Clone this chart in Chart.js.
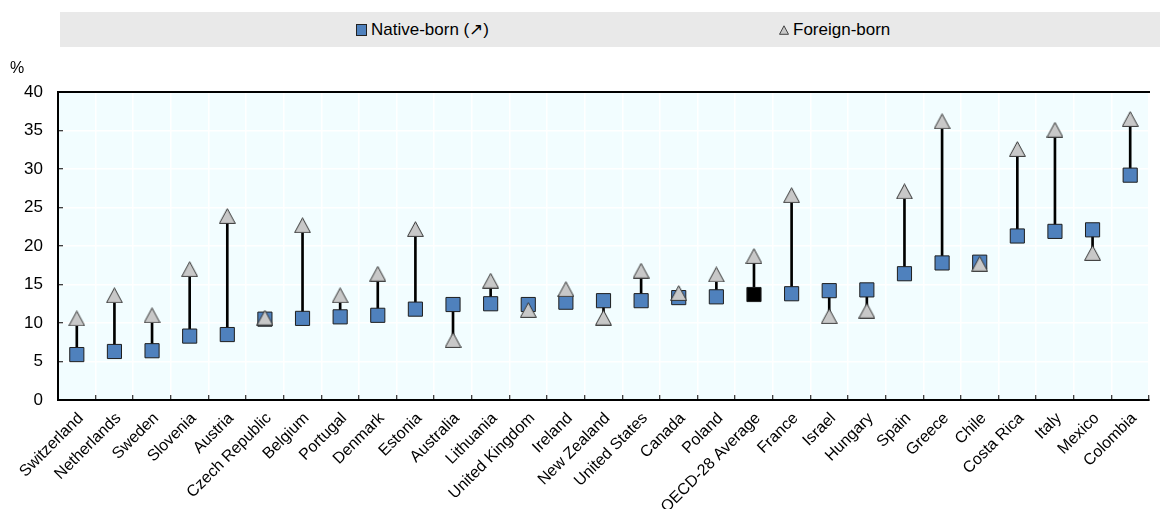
<!DOCTYPE html>
<html>
<head>
<meta charset="utf-8">
<script src="https://cdn.jsdelivr.net/npm/chart.js@4.4.1/dist/chart.umd.min.js"></script>
<style>
  html, body { margin: 0; padding: 0; background: #ffffff; }
  #wrap { position: relative; width: 1160px; height: 509px; overflow: hidden; font-family: "Liberation Sans", Arial, sans-serif; }
  #c { position: absolute; left: 0; top: 0; }
  #legend { position: absolute; left: 60px; top: 12px; width: 1100px; height: 35px; background: #e9e9e9; }
  .item { position: absolute; top: 0; height: 35px; display: flex; align-items: center; font-size: 17px; color: #000; white-space: nowrap; }
  .sq { width: 11px; height: 12px; background: #4f81bd; border: 1px solid #222; box-sizing: border-box; margin-right: 4px; }
  .tri { width: 10px; height: 10px; margin-right: 4px; }
  #pct { position: absolute; left: 10px; top: 59px; font-size: 16px; color: #000; }
</style>
</head>
<body>
<div id="wrap">
  <canvas id="c" width="1160" height="509"></canvas>
  <div id="legend">
    <div class="item" id="lg1" style="left:296px"><div class="sq"></div><span>Native-born (↗)</span></div>
    <div class="item" id="lg2" style="left:719px"><svg class="tri" viewBox="0 0 10 10"><polygon points="5,0.8 9.5,9.3 0.5,9.3" fill="#c8c8c8" stroke="#333" stroke-width="0.9"/></svg><span>Foreign-born</span></div>
  </div>
  <div id="pct">%</div>
</div>
<script>
const categories = ["Switzerland","Netherlands","Sweden","Slovenia","Austria","Czech Republic","Belgium","Portugal","Denmark","Estonia","Australia","Lithuania","United Kingdom","Ireland","New Zealand","United States","Canada","Poland","OECD-28 Average","France","Israel","Hungary","Spain","Greece","Chile","Costa Rica","Italy","Mexico","Colombia"];
const nativeBorn = [5.9, 6.3, 6.4, 8.3, 8.5, 10.5, 10.6, 10.8, 11.0, 11.8, 12.4, 12.5, 12.4, 12.7, 12.9, 12.9, 13.3, 13.4, 13.7, 13.8, 14.2, 14.3, 16.4, 17.8, 17.9, 21.3, 21.9, 22.1, 29.2];
const foreignBorn = [10.6, 13.6, 11.0, 17.0, 23.9, 10.7, 22.7, 13.6, 16.4, 22.2, 7.8, 15.5, 11.7, 14.4, 10.7, 16.8, 13.9, 16.3, 18.7, 26.6, 10.9, 11.6, 27.1, 36.2, 17.7, 32.6, 35.1, 19.1, 36.5];
const highlightCategory = "OECD-28 Average";
const yMin = 0, yMax = 40, yStep = 5;

const FONT = '"Liberation Sans", Arial, sans-serif';
Chart.defaults.font.family = FONT;
Chart.defaults.color = '#000';

function triangleImage(w, h, fill, stroke) {
  const c = document.createElement('canvas');
  c.width = w; c.height = h;
  const g = c.getContext('2d');
  g.beginPath();
  g.moveTo(w / 2, 0.7);
  g.lineTo(w - 0.6, h - 0.6);
  g.lineTo(0.6, h - 0.6);
  g.closePath();
  g.fillStyle = fill; g.fill();
  g.strokeStyle = stroke; g.lineWidth = 1; g.stroke();
  return c;
}
const triImg = triangleImage(17, 16, '#c8c8c8', '#333333');

const plotBg = {
  id: 'plotBg',
  beforeDraw(chart) {
    const { ctx, chartArea: a } = chart;
    ctx.save();
    ctx.fillStyle = '#f2fdff';
    ctx.fillRect(a.left, a.top, a.right - a.left, a.bottom - a.top);
    ctx.restore();
  }
};

new Chart(document.getElementById('c'), {
  type: 'bar',
  data: {
    labels: categories,
    datasets: [
      {
        type: 'line', label: 'Foreign-born', data: foreignBorn, showLine: false,
        pointStyle: triImg, pointRadius: 9, pointHoverRadius: 9, order: 0
      },
      {
        type: 'line', label: 'Native-born (↗)', data: nativeBorn, showLine: false,
        pointStyle: 'rect', pointRadius: 10, pointHoverRadius: 10,
        pointBackgroundColor: categories.map(c => c === highlightCategory ? '#000000' : '#4f81bd'),
        pointBorderColor: '#1e1e1e', pointBorderWidth: 1, order: 1
      },
      {
        type: 'bar', label: 'gap', data: categories.map((c, i) => [nativeBorn[i], foreignBorn[i]]),
        backgroundColor: '#000000', barThickness: 2, order: 2
      }
    ]
  },
  options: {
    responsive: false,
    animation: false,
    events: [],
    layout: { padding: { top: 92, left: 0, right: 0, bottom: 0 } },
    plugins: { legend: { display: false }, tooltip: { enabled: false }, title: { display: false } },
    scales: {
      x: {
        type: 'category', offset: true,
        grid: { offset: true, color: '#ffffff', lineWidth: 1.5, tickColor: '#000', tickLength: -5, tickWidth: 1 },
        border: { color: '#000', width: 2, z: 1 },
        ticks: { color: '#000', font: { size: 16 }, minRotation: 45, maxRotation: 45, autoSkip: false, padding: 14, labelOffset: 4 },
        afterFit(s) { s.height = 109; }
      },
      x2: {
        type: 'category', position: 'top', labels: categories, offset: true,
        grid: { display: false, drawTicks: false },
        ticks: { display: false },
        border: { color: '#000', width: 2, z: 1 },
        afterFit(s) { s.height = 0; }
      },
      y: {
        min: yMin, max: yMax,
        ticks: { stepSize: yStep, color: '#000', font: { size: 17 }, padding: 20 },
        grid: { color: '#ffffff', lineWidth: 1.5, tickColor: '#000', tickLength: -5, tickWidth: 1 },
        border: { color: '#000', width: 2, z: 1 },
        afterFit(s) { s.width = 58; }
      }
    }
  },
  plugins: [plotBg]
});
</script>
</body>
</html>
